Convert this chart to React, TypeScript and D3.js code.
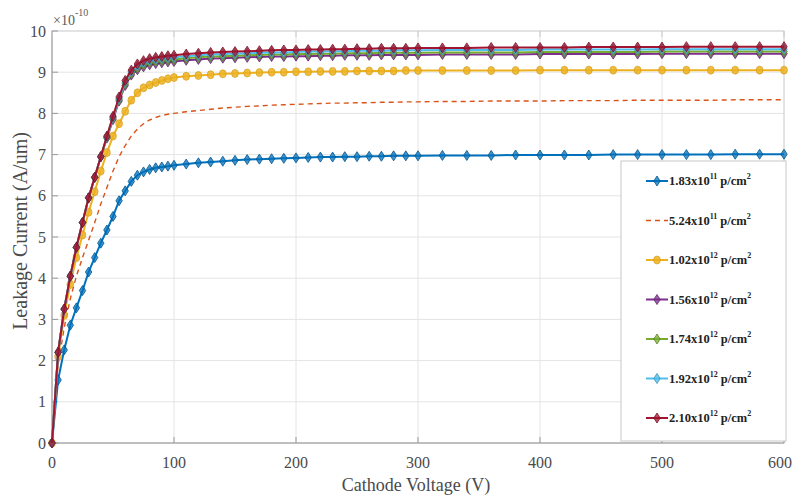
import React from "react";
import * as d3 from "d3";

const voltages = [
  0, 5, 10, 15, 20, 25, 30, 35, 40, 45, 50, 55, 60, 65, 70, 75, 80, 85, 90, 95, 100,
  110, 120, 130, 140, 150, 160, 170, 180, 190, 200, 210, 220, 230, 240, 250, 260, 270, 280, 290, 300,
  320, 340, 360, 380, 400, 420, 440, 460, 480, 500, 520, 540, 560, 580, 600,
];

const s183e11 = [
  0, 1.53, 2.26, 2.86, 3.28, 3.7, 4.15, 4.5, 4.85, 5.17, 5.5, 5.88, 6.12, 6.35, 6.5, 6.58, 6.64, 6.68, 6.7, 6.72, 6.74,
  6.77, 6.8, 6.82, 6.84, 6.86, 6.88, 6.89, 6.9, 6.91, 6.92, 6.93, 6.94, 6.94, 6.95, 6.95, 6.96, 6.96, 6.97, 6.97, 6.97,
  6.98, 6.98, 6.98, 6.99, 6.99, 6.99, 6.99, 7.0, 7.0, 7.0, 7.0, 7.0, 7.01, 7.01, 7.01,
];
const s524e11 = [
  0, 1.9, 2.8, 3.5, 4.05, 4.5, 4.92, 5.35, 5.8, 6.2, 6.6, 6.95, 7.22, 7.45, 7.62, 7.75, 7.84, 7.9, 7.95, 7.98, 8.0,
  8.04, 8.07, 8.1, 8.13, 8.15, 8.17, 8.18, 8.2, 8.21, 8.22, 8.23, 8.24, 8.25, 8.25, 8.26, 8.26, 8.27, 8.27, 8.28, 8.28,
  8.29, 8.29, 8.3, 8.3, 8.3, 8.31, 8.31, 8.31, 8.32, 8.32, 8.32, 8.32, 8.33, 8.33, 8.33,
];
const s102e12 = [
  0, 2.1, 3.1, 3.85, 4.5, 5.05, 5.6, 6.1, 6.6, 7.05, 7.45, 7.75, 8.05, 8.32, 8.5, 8.62, 8.69, 8.75, 8.8, 8.84, 8.87,
  8.9, 8.92, 8.94, 8.96, 8.97, 8.98, 8.99, 9.0, 9.0, 9.01, 9.01, 9.02, 9.02, 9.02, 9.03, 9.03, 9.03, 9.03, 9.04, 9.04,
  9.04, 9.04, 9.04, 9.04, 9.05, 9.05, 9.05, 9.05, 9.05, 9.05, 9.05, 9.05, 9.05, 9.05, 9.05,
];
const s156e12 = [
  0, 2.2, 3.25, 4.05, 4.75, 5.35, 5.95, 6.45, 6.95, 7.4, 7.85, 8.3, 8.68, 8.93, 9.06, 9.13, 9.18, 9.21, 9.23, 9.25, 9.26,
  9.29, 9.31, 9.33, 9.34, 9.35, 9.36, 9.37, 9.38, 9.38, 9.39, 9.39, 9.4, 9.4, 9.41, 9.41, 9.41, 9.42, 9.42, 9.42, 9.42,
  9.43, 9.43, 9.43, 9.43, 9.44, 9.44, 9.44, 9.44, 9.44, 9.45, 9.45, 9.45, 9.45, 9.45, 9.45,
];
const s174e12 = [
  0, 2.2, 3.25, 4.05, 4.75, 5.35, 5.95, 6.45, 6.95, 7.42, 7.88, 8.33, 8.72, 8.97, 9.1, 9.18, 9.23, 9.26, 9.28, 9.3, 9.31,
  9.34, 9.36, 9.38, 9.39, 9.4, 9.41, 9.42, 9.43, 9.43, 9.44, 9.44, 9.45, 9.45, 9.46, 9.46, 9.46, 9.47, 9.47, 9.47, 9.47,
  9.48, 9.48, 9.48, 9.48, 9.49, 9.49, 9.49, 9.49, 9.49, 9.5, 9.5, 9.5, 9.5, 9.5, 9.5,
];
const s192e12 = [
  0, 2.2, 3.25, 4.05, 4.75, 5.35, 5.95, 6.45, 6.95, 7.43, 7.9, 8.36, 8.76, 9.01, 9.15, 9.23, 9.28, 9.31, 9.33, 9.35, 9.36,
  9.39, 9.41, 9.43, 9.44, 9.45, 9.46, 9.47, 9.48, 9.48, 9.49, 9.5, 9.5, 9.51, 9.51, 9.52, 9.52, 9.52, 9.53, 9.53, 9.53,
  9.54, 9.54, 9.54, 9.54, 9.55, 9.55, 9.55, 9.55, 9.55, 9.56, 9.56, 9.56, 9.56, 9.56, 9.56,
];
const s210e12 = [
  0, 2.2, 3.25, 4.05, 4.75, 5.35, 5.95, 6.45, 6.95, 7.45, 7.93, 8.4, 8.8, 9.05, 9.2, 9.28, 9.33, 9.36, 9.38, 9.4, 9.41,
  9.44, 9.46, 9.48, 9.49, 9.5, 9.51, 9.52, 9.53, 9.54, 9.54, 9.55, 9.55, 9.56, 9.56, 9.57, 9.57, 9.58, 9.58, 9.58, 9.59,
  9.59, 9.59, 9.6, 9.6, 9.6, 9.6, 9.61, 9.61, 9.61, 9.61, 9.62, 9.62, 9.62, 9.62, 9.62,
];

const seriesNames = [
  ["1.83x10", "11"],
  ["5.24x10", "11"],
  ["1.02x10", "12"],
  ["1.56x10", "12"],
  ["1.74x10", "12"],
  ["1.92x10", "12"],
  ["2.10x10", "12"],
];
const seriesValues = [s183e11, s524e11, s102e12, s156e12, s174e12, s192e12, s210e12];
const seriesColors = ["#0072BD", "#D95319", "#EDB120", "#7E2F8E", "#77AC30", "#4DBEEE", "#A2142F"];
const seriesMarkers = ["diamond", "none", "circle", "diamond", "diamond", "diamond", "diamond"];
const seriesDash = [null, "5,4", null, null, null, null, null];

const xTicks = [0, 100, 200, 300, 400, 500, 600];
const yTicks = [0, 1, 2, 3, 4, 5, 6, 7, 8, 9, 10];

const W = 793;
const H = 502;
const M = { left: 52, right: 784, top: 31, bottom: 443 };
const FONT = "'Liberation Serif', 'Times New Roman', serif";

function Marker({ type, x, y, color }: { type: string; x: number; y: number; color: string }) {
  if (type === "diamond") {
    const w = 3.2, h = 5;
    return (
      <path
        d={`M${x},${y - h}L${x + w},${y}L${x},${y + h}L${x - w},${y}Z`}
        fill={color}
        fillOpacity={0.75}
        stroke={d3.color(color)!.darker(0.8).toString()}
        strokeWidth={0.8}
      />
    );
  }
  if (type === "circle") {
    return <ellipse cx={x} cy={y} rx={3.4} ry={4} fill={color} fillOpacity={0.85} stroke={d3.color(color)!.darker(0.3).toString()} strokeWidth={0.7} />;
  }
  return null;
}

export default function App() {
  const x = d3.scaleLinear().domain([0, 600]).range([M.left, M.right]);
  const y = d3.scaleLinear().domain([0, 10]).range([M.bottom, M.top]);
  const line = d3
    .line<number>()
    .x((_, i) => x(voltages[i]))
    .y((d) => y(d));

  const legX = 621, legY = 161, legW = 165, legH = 280;
  const legRow0 = 181, legStep = 39.5;

  return (
    <svg width={W} height={H} style={{ position: "absolute", left: 0, top: 0, background: "#fff" }}>
      <rect x={0} y={0} width={W} height={H} fill="#fff" />
      {/* grid */}
      {xTicks.slice(1, -1).map((t) => (
        <line key={"gx" + t} x1={x(t)} x2={x(t)} y1={M.top} y2={M.bottom} stroke="#e4e4e4" strokeWidth={1} />
      ))}
      {yTicks.slice(1, -1).map((t) => (
        <line key={"gy" + t} x1={M.left} x2={M.right} y1={y(t)} y2={y(t)} stroke="#e4e4e4" strokeWidth={1} />
      ))}
      {/* box */}
      <rect x={M.left} y={M.top} width={M.right - M.left} height={M.bottom - M.top} fill="none" stroke="#c8c8c8" strokeWidth={1} />
      <line x1={M.left} x2={M.left} y1={M.top} y2={M.bottom} stroke="#9a9a9a" />
      <line x1={M.left} x2={M.right} y1={M.bottom} y2={M.bottom} stroke="#9a9a9a" />
      {/* ticks */}
      {xTicks.map((t, i) => (
        <g key={"tx" + t}>
          <line x1={x(t)} x2={x(t)} y1={M.bottom} y2={M.bottom - 6} stroke="#9a9a9a" />
          <line x1={x(t)} x2={x(t)} y1={M.top} y2={M.top + 6} stroke="#c8c8c8" />
          <text
            x={i === xTicks.length - 1 ? W - 1 : x(t)}
            y={468}
            textAnchor={i === xTicks.length - 1 ? "end" : "middle"}
            fontFamily={FONT}
            fontSize={16}
            fill="#4a4a4a"
          >
            {t}
          </text>
        </g>
      ))}
      {yTicks.map((t) => (
        <g key={"ty" + t}>
          <line x1={M.left} x2={M.left + 6} y1={y(t)} y2={y(t)} stroke="#9a9a9a" />
          <text x={46} y={y(t) + 5.5} textAnchor="end" fontFamily={FONT} fontSize={16} fill="#4a4a4a">
            {t}
          </text>
        </g>
      ))}
      {/* exponent */}
      <text x={53} y={25} fontFamily={FONT} fontSize={14} fill="#5a5a5a">
        ×10
        <tspan fontSize={10} dy={-9}>-10</tspan>
      </text>
      {/* axis labels */}
      <text x={416} y={491} textAnchor="middle" fontFamily={FONT} fontSize={18} fill="#4a4a4a">
        Cathode Voltage (V)
      </text>
      <text
        transform={`translate(27,${231}) rotate(-90)`}
        textAnchor="middle"
        fontFamily={FONT}
        fontSize={20}
        fill="#4a4a4a"
      >
        Leakage Current (A/um)
      </text>
      {/* series */}
      <g>
        {seriesValues.map((vals, si) => (
          <g key={"s" + si}>
            <path
              d={line(vals) || ""}
              fill="none"
              stroke={seriesColors[si]}
              strokeWidth={si === 1 ? 1.4 : 2}
              strokeDasharray={seriesDash[si] || undefined}
            />
            {vals.map((v, i) => (
              <Marker key={i} type={seriesMarkers[si]} x={x(voltages[i])} y={y(v)} color={seriesColors[si]} />
            ))}
          </g>
        ))}
      </g>
      {/* legend */}
      <rect x={legX} y={legY} width={legW} height={legH} fill="#fff" stroke="#c8c8c8" strokeWidth={1} />
      {seriesNames.map((nm, i) => {
        const cy = legRow0 + i * legStep;
        return (
          <g key={"l" + i}>
            <line
              x1={646}
              x2={668}
              y1={cy}
              y2={cy}
              stroke={seriesColors[i]}
              strokeWidth={i === 1 ? 1.4 : 2}
              strokeDasharray={seriesDash[i] || undefined}
            />
            <Marker type={seriesMarkers[i]} x={657} y={cy} color={seriesColors[i]} />
            <text x={669} y={cy + 4} fontFamily={FONT} fontSize={12.5} fontWeight="bold" fill="#222">
              {nm[0]}
              <tspan fontSize={8} dy={-6}>{nm[1]}</tspan>
              <tspan dy={6}>{" p/cm"}</tspan>
              <tspan fontSize={8} dy={-6}>2</tspan>
            </text>
          </g>
        );
      })}
    </svg>
  );
}
